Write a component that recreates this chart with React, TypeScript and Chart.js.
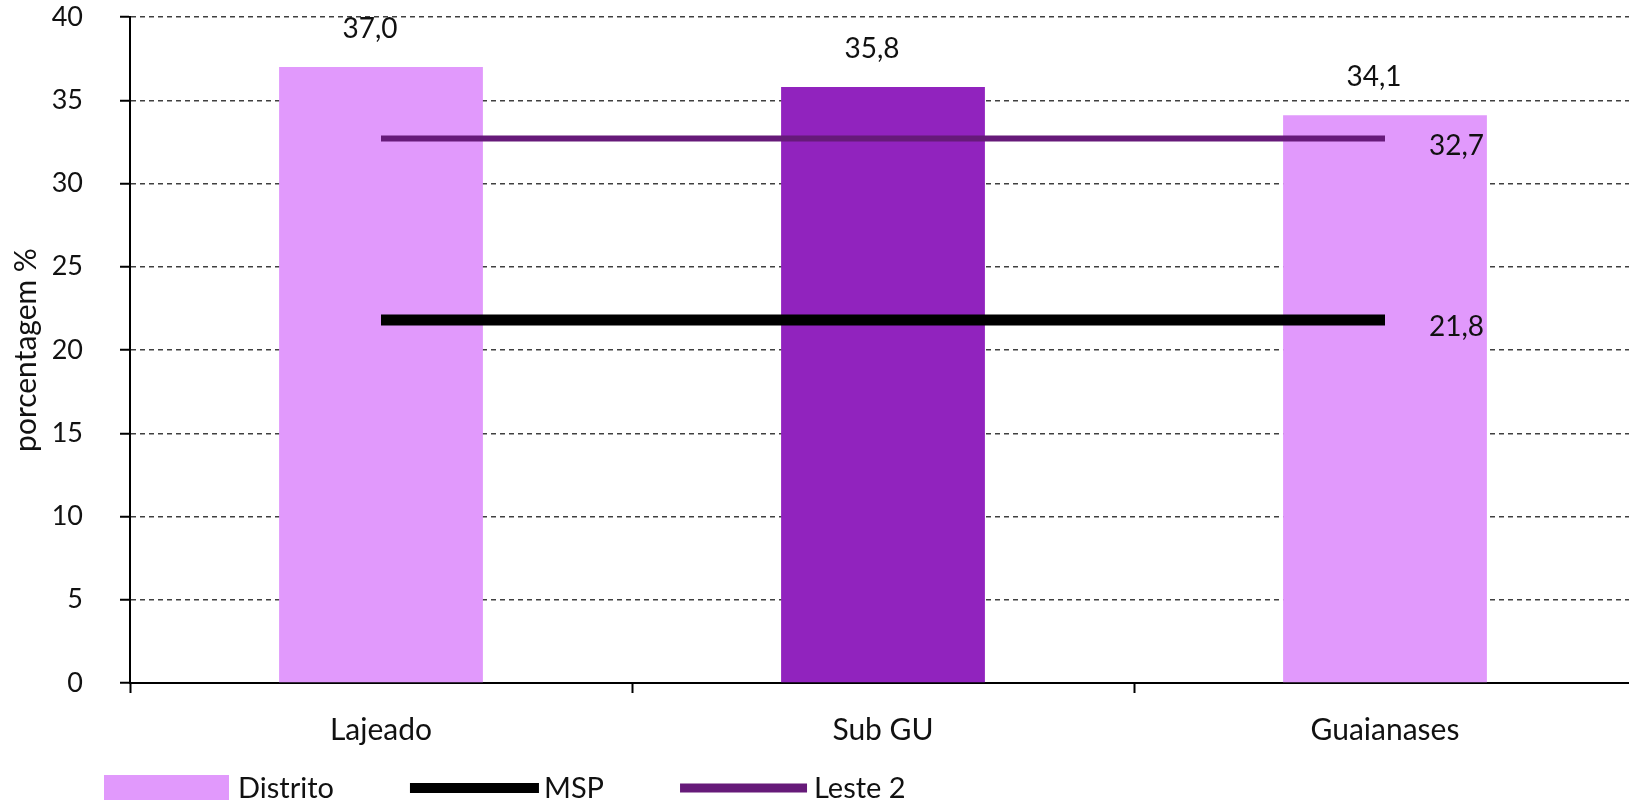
import React, { useEffect, useRef } from 'react';
import { Chart, registerables } from 'chart.js';

Chart.register(...registerables);

// ---- data ----
const categories = ['Lajeado', 'Sub GU', 'Guaianases'];
const distritoValues = [37.0, 35.8, 34.1];
const mspValues = [21.8, 21.8, 21.8];
const leste2Values = [32.7, 32.7, 32.7];
const seriesNames = ['Distrito', 'MSP', 'Leste 2'];
const yAxisTitle = 'porcentagem %';
const yMin = 0;
const yMax = 40;
const yStep = 5;

// ---- style ----
const FONT = 'Lato';
const TEXT = '#111111';
const distritoColors = ['#E199FC', '#9123BE', '#E199FC'];
const mspColor = '#000000';
const leste2Color = '#661A79';

const fmt = (v: number) => v.toFixed(1).replace('.', ',');

const valueLabelPlugin = {
  id: 'valueLabels',
  afterDatasetsDraw(chart: any) {
    const ctx = chart.ctx;
    ctx.save();
    ctx.font = `28px ${FONT}`;
    ctx.fillStyle = TEXT;
    ctx.textBaseline = 'middle';
    const barMeta = chart.getDatasetMeta(0);
    ctx.textAlign = 'center';
    barMeta.data.forEach((el: any, i: number) => {
      const v = chart.data.datasets[0].data[i];
      ctx.fillText(fmt(v), el.x - 11, el.y - 38);
    });
    ctx.textAlign = 'left';
    [1, 2].forEach((di) => {
      const meta = chart.getDatasetMeta(di);
      const last = meta.data[meta.data.length - 1];
      const vals = chart.data.datasets[di].data;
      ctx.fillText(fmt(vals[vals.length - 1]), last.x + 44, last.y + 7);
    });
    ctx.restore();
  },
};

const legendPlugin = {
  id: 'customLegend',
  afterDraw(chart: any) {
    const ctx = chart.ctx;
    ctx.save();
    ctx.font = `29px ${FONT}`;
    ctx.textBaseline = 'alphabetic';
    ctx.textAlign = 'left';
    let x = 104;
    const symW = 125;
    const gap = 9;
    const itemGap = 76;
    const midY = 788;
    chart.data.datasets.forEach((ds: any, i: number) => {
      if (ds.type === 'bar') {
        ctx.fillStyle = Array.isArray(ds.backgroundColor) ? ds.backgroundColor[0] : ds.backgroundColor;
        ctx.fillRect(x, 775, symW, 30);
      } else {
        ctx.strokeStyle = ds.borderColor;
        ctx.lineWidth = i === 1 ? 10 : 9;
        ctx.beginPath();
        ctx.moveTo(x, midY);
        ctx.lineTo(x + symW + (i === 1 ? 4 : 2), midY);
        ctx.stroke();
      }
      const tx = x + symW + gap;
      ctx.fillStyle = TEXT;
      ctx.fillText(ds.label, tx, 798);
      const w = ctx.measureText(ds.label).width;
      x = tx + w + itemGap;
    });
    ctx.restore();
  },
};

export default function App() {
  const canvasRef = useRef<HTMLCanvasElement | null>(null);

  useEffect(() => {
    document.body.style.margin = '0';
    document.body.style.overflow = 'hidden';
    const canvas = canvasRef.current;
    if (!canvas) return;
    const chart = new Chart(canvas, {
      type: 'bar',
      data: {
        labels: categories,
        datasets: [
          {
            type: 'bar',
            label: seriesNames[0],
            data: distritoValues,
            backgroundColor: distritoColors,
            borderWidth: 0,
            barPercentage: 0.406,
            categoryPercentage: 1,
            order: 2,
          } as any,
          {
            type: 'line',
            label: seriesNames[1],
            data: mspValues,
            borderColor: mspColor,
            backgroundColor: mspColor,
            borderWidth: 11,
            pointRadius: 0,
            fill: false,
            tension: 0,
            borderCapStyle: 'butt',
            order: 1,
          } as any,
          {
            type: 'line',
            label: seriesNames[2],
            data: leste2Values,
            borderColor: leste2Color,
            backgroundColor: leste2Color,
            borderWidth: 6,
            pointRadius: 0,
            fill: false,
            tension: 0,
            borderCapStyle: 'butt',
            order: 0,
          } as any,
        ],
      },
      options: {
        responsive: false,
        animation: false,
        devicePixelRatio: 1,
        layout: { padding: { top: 17, right: 4, left: 0, bottom: 0 } },
        plugins: {
          legend: { display: false },
          tooltip: { enabled: false },
        },
        scales: {
          x: {
            offset: true,
            grid: {
              offset: true,
              drawOnChartArea: false,
              drawTicks: true,
              tickLength: 10,
              tickColor: '#000',
              tickWidth: 2,
            },
            border: { display: true, color: '#000', width: 2 },
            ticks: {
              color: TEXT,
              font: { family: FONT, size: 30 },
              padding: 19,
              maxRotation: 0,
            },
            afterFit: (scale: any) => {
              scale.height = 137;
              scale.paddingLeft = 0;
              scale.paddingRight = 0;
            },
          },
          y: {
            min: yMin,
            max: yMax,
            ticks: {
              stepSize: yStep,
              color: TEXT,
              font: { family: FONT, size: 27 },
              padding: 37,
            },
            grid: {
              color: (ctx: any) => (ctx.tick && ctx.tick.value === 0 ? 'rgba(0,0,0,0)' : '#404040'),
              lineWidth: 1.5,
              drawTicks: true,
              tickLength: 10,
              tickColor: '#000',
              tickWidth: 2,
              tickBorderDash: [],
            },
            border: { display: true, color: '#000', width: 2, dash: [5, 4] },
            title: {
              display: true,
              text: yAxisTitle,
              color: TEXT,
              font: { family: FONT, size: 30 },
              padding: { top: 8, bottom: 0 },
            },
            afterFit: (scale: any) => {
              scale.width = 130;
              scale.paddingTop = 0;
              scale.paddingBottom = 0;
            },
          },
        },
      },
      plugins: [valueLabelPlugin, legendPlugin],
    });
    return () => chart.destroy();
  }, []);

  return (
    <div style={{ width: 1629, height: 800, overflow: 'hidden', position: 'relative', background: '#fff' }}>
      <canvas ref={canvasRef} width={1640} height={820} style={{ display: 'block', width: 1640, height: 820 }} />
    </div>
  );
}
